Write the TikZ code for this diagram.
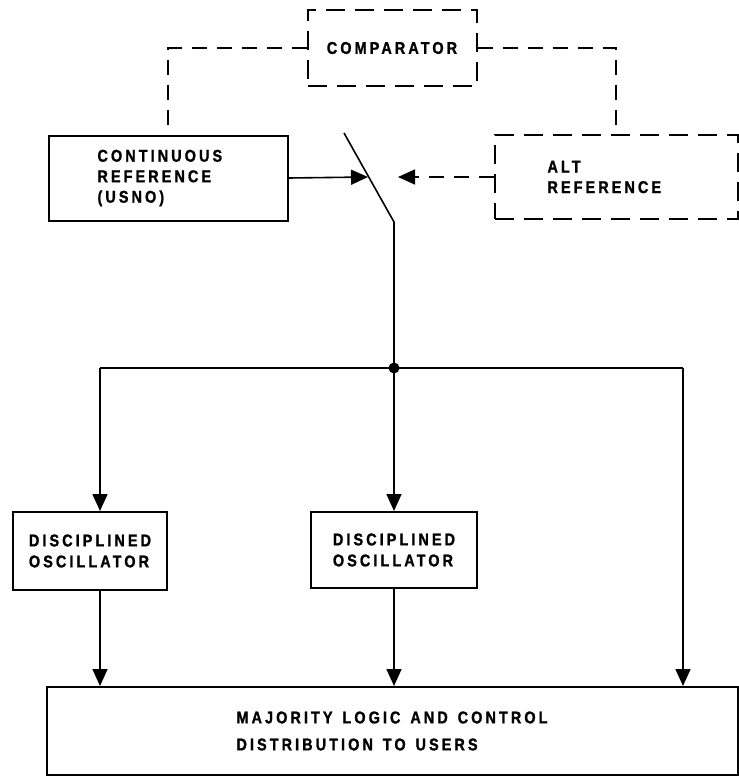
\documentclass[tikz,border=0pt]{standalone}
\usepackage{fontspec}
\setmainfont{Liberation Sans}[LetterSpace=18, FakeStretch=0.85,
  BoldFeatures={FakeBold=1.2}, WordSpace=1.4]
\usetikzlibrary{arrows.meta,calc}

\tikzset{
  blk/.style={rectangle, draw, line width=2pt, align=left,
    font=\bfseries\fontsize{17}{20.5}\selectfont},
  altblk/.style={blk, dash pattern=on 19pt off 10pt},
  arr/.style={-{Triangle[width=15pt,length=17pt]}, line width=1.6pt},
  wire/.style={line width=1.6pt},
}

\begin{document}
\begin{tikzpicture}[x=1pt,y=-1pt]
  \useasboundingbox (0,0) rectangle (739,777);

  \node[altblk, minimum width=169pt, minimum height=76pt] (comp) at (392,48) {COMPARATOR};
  \node[blk, text width=141pt, inner xsep=49pt, minimum height=85pt] (cref) at (168,178)
    {CONTINUOUS\\REFERENCE\\(USNO)};
  \node[altblk, text width=137pt, inner xsep=53pt, minimum height=84pt] (aref) at (616,177)
    {ALT\\REFERENCE};

  \node[blk, minimum width=154pt, minimum height=78pt,
    font=\bfseries\fontsize{17}{21}\selectfont] (do1) at (90,551)
    {DISCIPLINED\\OSCILLATOR};
  \node[blk, minimum width=166pt, minimum height=76pt,
    font=\bfseries\fontsize{17}{21}\selectfont] (do2) at (394,550)
    {DISCIPLINED\\OSCILLATOR};
  \node[blk, minimum width=691pt, minimum height=88pt,
    font=\bfseries\fontsize{17}{27}\selectfont] (users) at (392,731)
    {MAJORITY LOGIC AND CONTROL\\DISTRIBUTION TO USERS};

  % switch
  \coordinate (swtop) at (344,133);
  \coordinate (swpiv) at (394,222);
  \coordinate (j) at (394,368);
  \coordinate (lft) at (100,368);
  \coordinate (rgt) at (683,368);

  \draw[wire, dash pattern=on 15pt off 10pt] (comp.west) -| (cref.north);
  \draw[wire, dash pattern=on 15pt off 10pt] (comp.east) -| (aref.north);

  \draw[wire] (swtop) -- (swpiv) -- (j);
  \draw[arr] (cref.east) -- (368,177);
  \draw[arr, dash pattern=on 15pt off 10pt] (aref.west) -- (398,177);

  \fill (j) circle (5.5pt);
  \draw[wire] (lft) -- (rgt);
  \draw[arr] (lft) -- (lft |- do1.north);
  \draw[arr] (j) -- (do2.north);
  \draw[arr] (rgt) -- (rgt |- users.north);
  \draw[arr] (lft |- do1.south) -- (lft |- users.north);
  \draw[arr] (do2.south) -- (do2.south |- users.north);
\end{tikzpicture}
\end{document}
